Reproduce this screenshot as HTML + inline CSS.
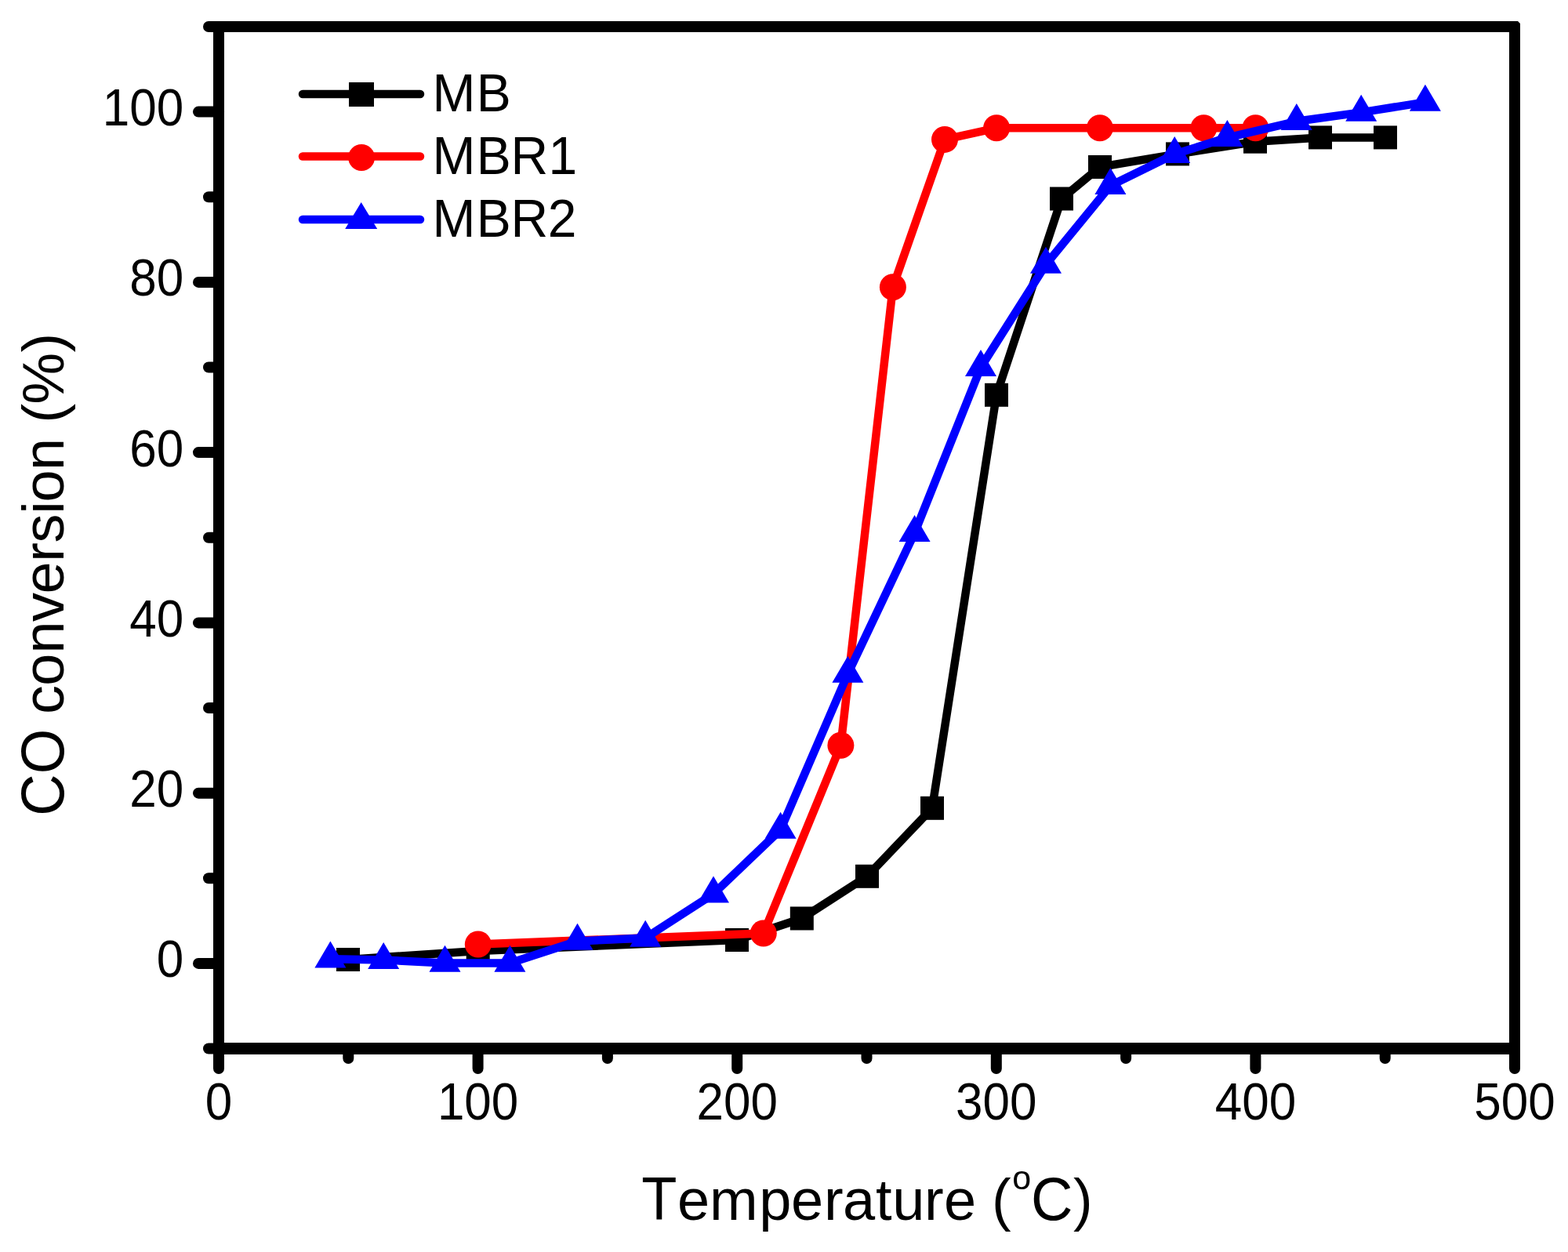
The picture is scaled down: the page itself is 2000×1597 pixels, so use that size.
<!DOCTYPE html><html><head><meta charset="utf-8"><title>CO conversion vs Temperature</title><style>html,body{margin:0;padding:0;background:#fff;overflow:hidden}svg{display:block}</style></head><body><svg width="2000" height="1597" viewBox="0 0 2000 1597">
<rect width="2000" height="1597" fill="#fff"/>
<g stroke="#000" stroke-width="14" stroke-linecap="round"><line x1="266" y1="1337.50" x2="279" y2="1337.50"/><line x1="253" y1="1228.88" x2="279" y2="1228.88"/><line x1="266" y1="1120.25" x2="279" y2="1120.25"/><line x1="253" y1="1011.63" x2="279" y2="1011.63"/><line x1="266" y1="903.00" x2="279" y2="903.00"/><line x1="253" y1="794.38" x2="279" y2="794.38"/><line x1="266" y1="685.75" x2="279" y2="685.75"/><line x1="253" y1="577.12" x2="279" y2="577.12"/><line x1="266" y1="468.50" x2="279" y2="468.50"/><line x1="253" y1="359.88" x2="279" y2="359.88"/><line x1="266" y1="251.25" x2="279" y2="251.25"/><line x1="253" y1="142.62" x2="279" y2="142.62"/><line x1="266" y1="34.00" x2="279" y2="34.00"/><line x1="279.00" y1="1337.5" x2="279.00" y2="1363"/><line x1="444.30" y1="1337.5" x2="444.30" y2="1350"/><line x1="609.60" y1="1337.5" x2="609.60" y2="1363"/><line x1="774.90" y1="1337.5" x2="774.90" y2="1350"/><line x1="940.20" y1="1337.5" x2="940.20" y2="1363"/><line x1="1105.50" y1="1337.5" x2="1105.50" y2="1350"/><line x1="1270.80" y1="1337.5" x2="1270.80" y2="1363"/><line x1="1436.10" y1="1337.5" x2="1436.10" y2="1350"/><line x1="1601.40" y1="1337.5" x2="1601.40" y2="1363"/><line x1="1766.70" y1="1337.5" x2="1766.70" y2="1350"/><line x1="1932.00" y1="1337.5" x2="1932.00" y2="1363"/></g>
<path fill="#000" fill-rule="evenodd" d="M272 27H1936L1939 30V1345H272Z M286 41V1330H1925V41Z"/>
<polyline points="444.0,1224.0 609.7,1213.0 940.0,1199.0 1022.8,1171.5 1106.0,1117.8 1189.0,1030.8 1271.0,503.8 1354.0,253.5 1403.0,213.0 1502.0,196.4 1601.0,180.7 1684.0,175.4 1767.0,175.4" fill="none" stroke="#000" stroke-width="10.5" stroke-linejoin="round" stroke-linecap="round"/>
<g fill="#000"><rect x="429.0" y="1209.0" width="30" height="30"/><rect x="594.7" y="1198.0" width="30" height="30"/><rect x="925.0" y="1184.0" width="30" height="30"/><rect x="1007.8" y="1156.5" width="30" height="30"/><rect x="1091.0" y="1102.8" width="30" height="30"/><rect x="1174.0" y="1015.8" width="30" height="30"/><rect x="1256.0" y="488.8" width="30" height="30"/><rect x="1339.0" y="238.5" width="30" height="30"/><rect x="1388.0" y="198.0" width="30" height="30"/><rect x="1487.0" y="181.4" width="30" height="30"/><rect x="1586.0" y="165.7" width="30" height="30"/><rect x="1669.0" y="160.4" width="30" height="30"/><rect x="1752.0" y="160.4" width="30" height="30"/></g>
<polyline points="609.8,1204.5 973.8,1190.5 1072.4,950.8 1138.9,366.2 1205.0,177.9 1271.1,163.3 1402.9,163.3 1535.4,163.3 1601.4,163.3" fill="none" stroke="#f00" stroke-width="10.5" stroke-linejoin="round" stroke-linecap="round"/>
<g fill="#f00"><circle cx="609.8" cy="1204.5" r="17"/><circle cx="973.8" cy="1190.5" r="17"/><circle cx="1072.4" cy="950.8" r="17"/><circle cx="1138.9" cy="366.2" r="17"/><circle cx="1205.0" cy="177.9" r="17"/><circle cx="1271.1" cy="163.3" r="17"/><circle cx="1402.9" cy="163.3" r="17"/><circle cx="1535.4" cy="163.3" r="17"/><circle cx="1601.4" cy="163.3" r="17"/></g>
<polyline points="421.4,1223.2 489.2,1224.6 567.5,1228.4 650.4,1228.4 736.5,1200.4 823.2,1196.4 910.0,1140.3 995.6,1058.4 1081.4,859.5 1166.6,679.8 1251.0,468.6 1334.0,337.5 1416.4,236.8 1498.2,196.6 1565.4,175.6 1653.8,154.8 1736.2,143.4 1817.9,130.4" fill="none" stroke="#00f" stroke-width="10.5" stroke-linejoin="round" stroke-linecap="round"/>
<g fill="#00f"><polygon points="421.4,1200.5 441.4,1234.5 401.4,1234.5"/><polygon points="489.2,1201.9 509.2,1235.9 469.2,1235.9"/><polygon points="567.5,1205.7 587.5,1239.7 547.5,1239.7"/><polygon points="650.4,1205.7 670.4,1239.7 630.4,1239.7"/><polygon points="736.5,1177.7 756.5,1211.7 716.5,1211.7"/><polygon points="823.2,1173.7 843.2,1207.7 803.2,1207.7"/><polygon points="910.0,1117.6 930.0,1151.6 890.0,1151.6"/><polygon points="995.6,1035.7 1015.6,1069.7 975.6,1069.7"/><polygon points="1081.4,836.8 1101.4,870.8 1061.4,870.8"/><polygon points="1166.6,657.1 1186.6,691.1 1146.6,691.1"/><polygon points="1251.0,445.9 1271.0,479.9 1231.0,479.9"/><polygon points="1334.0,314.8 1354.0,348.8 1314.0,348.8"/><polygon points="1416.4,214.1 1436.4,248.1 1396.4,248.1"/><polygon points="1498.2,173.9 1518.2,207.9 1478.2,207.9"/><polygon points="1565.4,152.9 1585.4,186.9 1545.4,186.9"/><polygon points="1653.8,132.1 1673.8,166.1 1633.8,166.1"/><polygon points="1736.2,120.7 1756.2,154.7 1716.2,154.7"/><polygon points="1817.9,107.7 1837.9,141.7 1797.9,141.7"/></g>
<g stroke-width="10.5" stroke-linecap="round"><line x1="386" y1="120" x2="536" y2="120" stroke="#000"/><line x1="386" y1="199.5" x2="536" y2="199.5" stroke="#f00"/><line x1="386" y1="280" x2="536" y2="280" stroke="#00f"/></g>
<rect x="445" y="105" width="32" height="31" fill="#000"/>
<circle cx="461.1" cy="201" r="17" fill="#f00"/>
<g fill="#00f"><polygon points="460.7,257.9 481.2,291.9 440.2,291.9"/></g>
<g font-family="Liberation Sans, Arial, sans-serif" font-size="66" fill="#000"><text transform="translate(0,141.9) scale(1,1.035)" x="551.6 607.8" y="0">MB</text><text transform="translate(0,221.8) scale(1,1.035)" x="551.6 607.8 651.6 699.6" y="0">MBR1</text><text transform="translate(0,301.8) scale(1,1.035)" x="551.6 607.8 651.6 698.7" y="0">MBR2</text></g>
<g font-family="Liberation Sans, Arial, sans-serif" font-size="62" fill="#000"><text transform="translate(234.3,1246.4) scale(1,1.067)" text-anchor="end">0</text><text transform="translate(234.3,1029.1) scale(1,1.067)" text-anchor="end">20</text><text transform="translate(234.3,811.9) scale(1,1.067)" text-anchor="end">40</text><text transform="translate(234.3,594.6) scale(1,1.067)" text-anchor="end">60</text><text transform="translate(234.3,377.4) scale(1,1.067)" text-anchor="end">80</text><text transform="translate(234.3,160.1) scale(1,1.067)" text-anchor="end">100</text><text transform="translate(279.0,1428.1) scale(1,1.067)" text-anchor="middle">0</text><text transform="translate(609.6,1428.1) scale(1,1.067)" text-anchor="middle">100</text><text transform="translate(940.2,1428.1) scale(1,1.067)" text-anchor="middle">200</text><text transform="translate(1270.8,1428.1) scale(1,1.067)" text-anchor="middle">300</text><text transform="translate(1601.4,1428.1) scale(1,1.067)" text-anchor="middle">400</text><text transform="translate(1932.0,1428.1) scale(1,1.067)" text-anchor="middle">500</text></g>
<g font-family="Liberation Sans, Arial, sans-serif" font-size="74" fill="#000"><text transform="translate(818.3,1556) scale(1,1.04)">T</text><text x="863.9 905.1 968.2 1008.9 1051.1 1074.9 1116.9 1138.2 1179.1 1203.9 1245.0 1265.0" y="1556">emperature (</text><text x="1291.2" y="1516.5" font-size="43">o</text><text transform="translate(1315.0,1556) scale(1,1.04)">C</text><text x="1369.1" y="1556">)</text>
<text transform="translate(81,0) rotate(-90) translate(-1040.8,0) scale(1,1.04)">C</text>
<text transform="translate(81,0) rotate(-90) translate(-987.3,0) scale(1,1.04)">O</text>
<text transform="translate(81,0) rotate(-90)" x="-910.9 -874.7 -833.6 -792.9 -757.4 -716.8 -692.5 -655.8 -640.4 -600.1 -572.4 -539.6 -515.8 -449.4" y="0">conversion (%)</text>
</g>
</svg></body></html>
